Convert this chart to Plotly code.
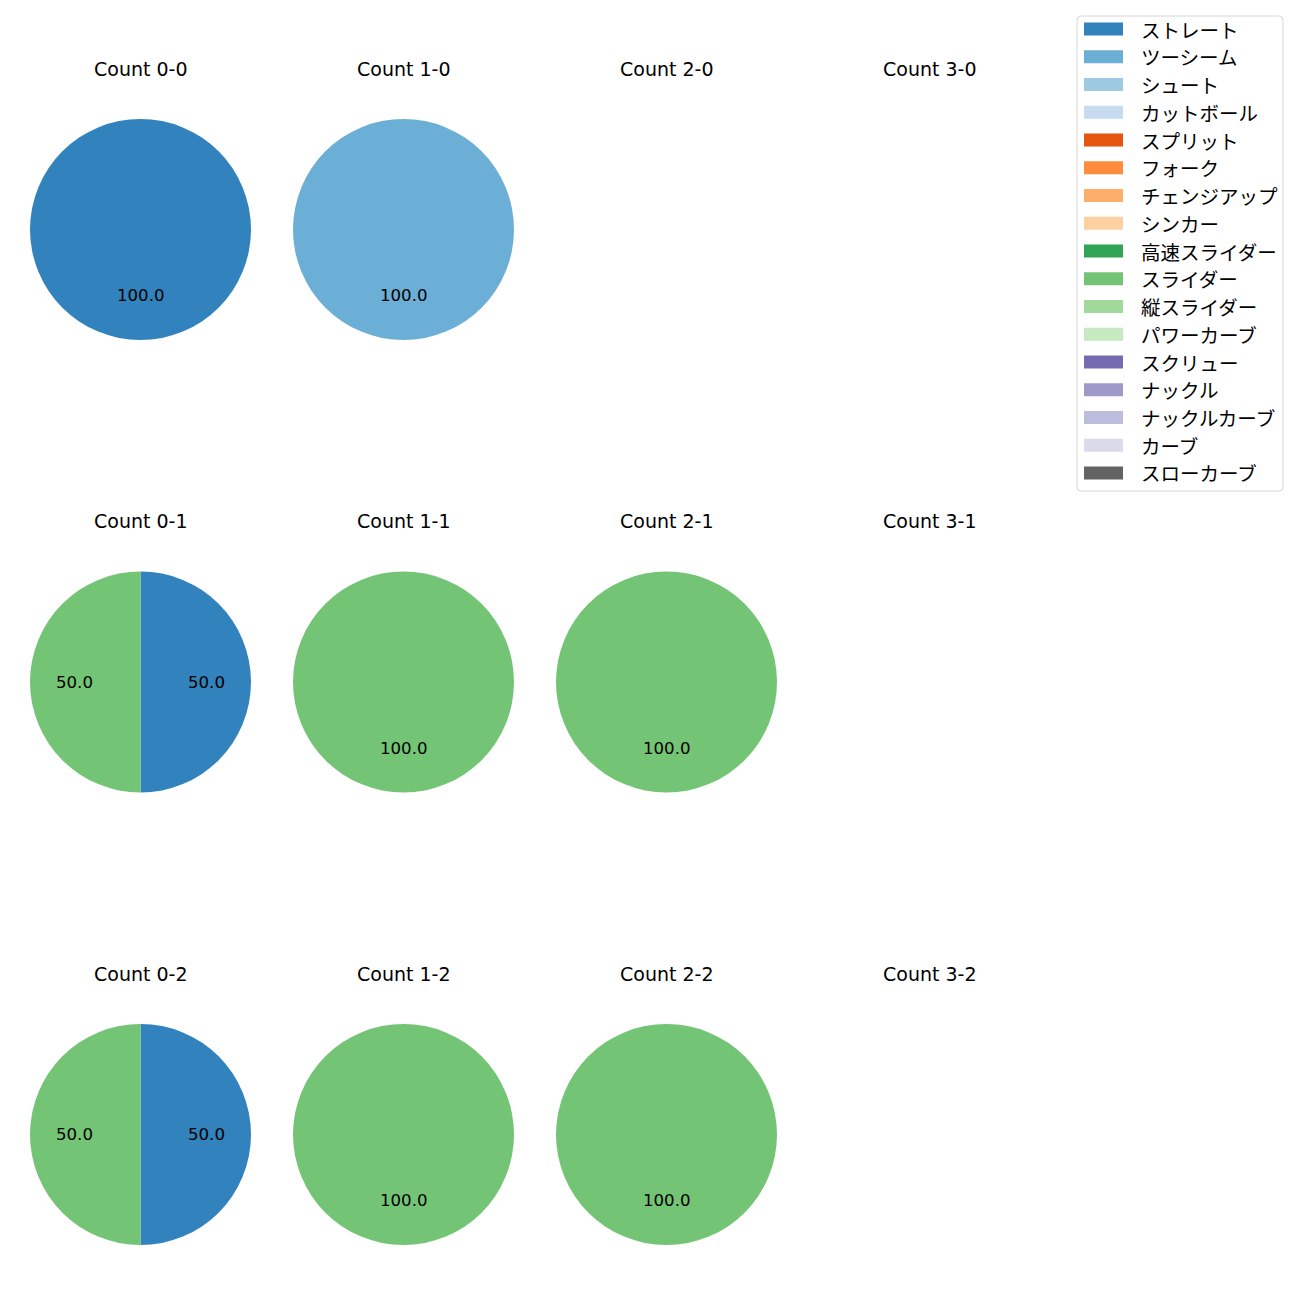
import math
import plotly.graph_objects as go

# ---- data ----
categories = ["ストレート", "ツーシーム", "シュート", "カットボール", "スプリット", "フォーク",
              "チェンジアップ", "シンカー", "高速スライダー", "スライダー", "縦スライダー",
              "パワーカーブ", "スクリュー", "ナックル", "ナックルカーブ", "カーブ", "スローカーブ"]
colors = ["#3182bd", "#6baed6", "#9ecae1", "#c6dbef", "#e6550d", "#fd8d3c", "#fdae6b",
          "#fdd0a2", "#31a354", "#74c476", "#a1d99b", "#c7e9c0", "#756bb1", "#9e9ac8",
          "#bcbddc", "#dadaeb", "#636363"]
color_map = dict(zip(categories, colors))

panel_titles = [["Count 0-0", "Count 1-0", "Count 2-0", "Count 3-0"],
                ["Count 0-1", "Count 1-1", "Count 2-1", "Count 3-1"],
                ["Count 0-2", "Count 1-2", "Count 2-2", "Count 3-2"]]

# pitch counts per panel (row = strikes, col = balls)
panel_labels = [[["ストレート"], ["ツーシーム"], [], []],
                [["ストレート", "スライダー"], ["スライダー"], ["スライダー"], []],
                [["ストレート", "スライダー"], ["スライダー"], ["スライダー"], []]]
panel_values = [[[1], [1], [], []],
                [[1, 1], [1], [1], []],
                [[1, 1], [1], [1], []]]

# ---- layout geometry (pixels) ----
W = H = 1300
col_cx = [140.5, 403.5, 666.5, 929.5]
row_cy = [229.5, 682.0, 1134.5]
R = 110.5
title_offset = 161

LATIN = "DejaVu Sans"
CJK = "Noto Sans CJK JP"

fig = go.Figure()
annotations = []
shapes = []

def px(x):
    return x / W

def py(y):
    return 1 - y / H

for r in range(3):
    for c in range(4):
        cx, cy = col_cx[c], row_cy[r]
        annotations.append(dict(x=px(cx), y=py(cy - title_offset), xref="paper", yref="paper",
                                text=panel_titles[r][c], showarrow=False,
                                font=dict(family=LATIN, size=19, color="#000000"),
                                xanchor="center", yanchor="middle"))
        labels = panel_labels[r][c]
        values = panel_values[r][c]
        if not labels:
            continue
        fig.add_trace(go.Pie(
            labels=labels, values=values, sort=False, direction="clockwise", rotation=0,
            marker=dict(colors=[color_map[l] for l in labels], line=dict(width=0)),
            textinfo="none", hoverinfo="label+percent", showlegend=False,
            domain=dict(x=[px(cx - R), px(cx + R)], y=[py(cy + R), py(cy - R)]),
        ))
        total = sum(values)
        cum = 0.0
        for l, v in zip(labels, values):
            frac = v / total
            theta = math.radians(90 - 360 * (cum + frac / 2))
            tx = cx + 0.6 * R * math.cos(theta)
            ty = cy - 0.6 * R * math.sin(theta)
            annotations.append(dict(x=px(tx), y=py(ty), xref="paper", yref="paper",
                                    text=f"{frac * 100:.1f}", showarrow=False,
                                    font=dict(family=LATIN, size=16.6, color="#000000"),
                                    xanchor="center", yanchor="middle"))
            cum += frac

# ---- legend (manual, matplotlib style) ----
lx0, lx1, ly0, ly1 = 1077, 1283, 16, 491
rad = 4
path = (f"M {px(lx0 + rad)},{py(ly0)} L {px(lx1 - rad)},{py(ly0)} "
        f"Q {px(lx1)},{py(ly0)} {px(lx1)},{py(ly0 + rad)} "
        f"L {px(lx1)},{py(ly1 - rad)} Q {px(lx1)},{py(ly1)} {px(lx1 - rad)},{py(ly1)} "
        f"L {px(lx0 + rad)},{py(ly1)} Q {px(lx0)},{py(ly1)} {px(lx0)},{py(ly1 - rad)} "
        f"L {px(lx0)},{py(ly0 + rad)} Q {px(lx0)},{py(ly0)} {px(lx0 + rad)},{py(ly0)} Z")
shapes.append(dict(type="path", path=path, xref="paper", yref="paper",
                   line=dict(color="#d6d6d6", width=1), fillcolor="rgba(255,255,255,0.8)"))
first_y, step = 29.0, 27.75
for i, (cat, col) in enumerate(zip(categories, colors)):
    yc = first_y + i * step
    shapes.append(dict(type="rect", xref="paper", yref="paper",
                       x0=px(1084), x1=px(1123), y0=py(yc + 6.5), y1=py(yc - 6.5),
                       line=dict(width=0), fillcolor=col))
    annotations.append(dict(x=px(1139), y=py(yc), xref="paper", yref="paper",
                            text=cat, showarrow=False,
                            font=dict(family=CJK, size=19.5, color="#000000"),
                            xanchor="left", yanchor="middle"))

fig.update_layout(width=W, height=H, margin=dict(l=0, r=0, t=0, b=0),
                  paper_bgcolor="white", plot_bgcolor="white",
                  showlegend=False, annotations=annotations, shapes=shapes,
                  font=dict(family=LATIN))

fig.write_html("out.html", config={"displayModeBar": False},
               post_script="document.body.style.margin='0px';")
